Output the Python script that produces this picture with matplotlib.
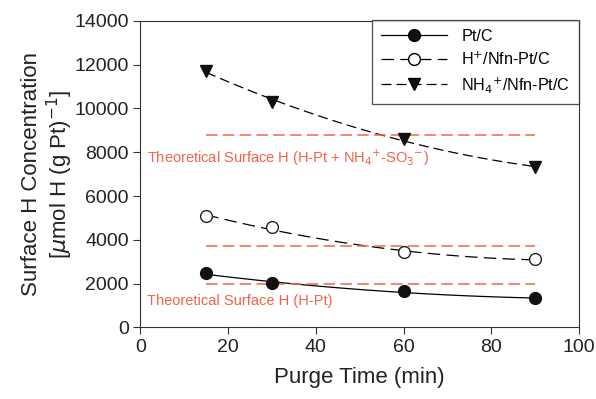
import numpy as np
import matplotlib.pyplot as plt

plt.rcParams['font.family'] = ['Liberation Sans', 'DejaVu Sans']

time = [15, 30, 60, 90]
pt_c = [2470, 2010, 1650, 1330]
h_nfn = [5080, 4570, 3430, 3110]
nh4_nfn = [11710, 10290, 8600, 7320]

theory_full = 8780
theory_mid = 3710
theory_pt = 1970
theory_x = [15, 90]

red = '#f26446'

fig = plt.figure(figsize=(5.96, 3.99), dpi=100)
ax = fig.add_axes([0.2357, 0.1792, 0.7357, 0.7689])

h_dash = (0, (10, 5))
nh4_dash = (0, (8, 4))

# smooth fit curves through the measured points
xs = np.linspace(15, 90, 100)
for vals, ls in [(pt_c, '-'), (h_nfn, h_dash), (nh4_nfn, nh4_dash)]:
    c = np.polyfit(time, vals, 2)
    ax.plot(xs, np.polyval(c, xs), color='black', lw=0.9, linestyle=ls)

for yv in [theory_full, theory_mid, theory_pt]:
    ax.plot(theory_x, [yv, yv], color=red, lw=1.1, linestyle=(0, (7.5, 3.5)))

ax.plot(time, pt_c, 'o', color='#111111', ms=8.5)
ax.plot(time, h_nfn, 'o', mfc='white', mec='#222222', mew=1.0, ms=8.5)
ax.plot(time, nh4_nfn, 'v', color='#111111', ms=8.5)

# legend proxies
ax.plot([], [], '-o', color='black', mfc='#111111', lw=0.9, ms=8.5, label='Pt/C')
ax.plot([], [], 'o', ls=h_dash, color='black', mfc='white', lw=0.9, ms=8.5,
        label='H$^{+}$/Nfn-Pt/C')
ax.plot([], [], 'v', ls=nh4_dash, color='black', mfc='#111111', lw=0.9, ms=8.5,
        label='NH$_4$$^{+}$/Nfn-Pt/C')

ax.text(1.5, 7735, 'Theoretical Surface H (H-Pt + NH$_4$$^{+}$-SO$_3$$^{-}$)',
        color=red, fontsize=10.5, va='center')
ax.text(1.5, 1209, 'Theoretical Surface H (H-Pt)', color=red, fontsize=10.5, va='center')

ax.set_xlim(0, 100)
ax.set_ylim(0, 14000)
ax.set_xticks(range(0, 101, 20))
ax.set_yticks(range(0, 14001, 2000))
ax.tick_params(labelsize=14, direction='out', length=5, color='#333333',
               labelcolor='#222222')
for s in ax.spines.values():
    s.set_color('#333333')

ax.set_xlabel('Purge Time (min)', fontsize=16, labelpad=8, color='#222222')
ax.set_ylabel('Surface H Concentration\n[$\\mu$mol H (g Pt)$^{-1}$]', fontsize=16,
              labelpad=-0.5, linespacing=1.12, color='#222222')

leg = ax.legend(loc='upper right', bbox_to_anchor=(0.9715, 0.95),
                bbox_transform=fig.transFigure, borderaxespad=0, fontsize=11.6,
                frameon=True, fancybox=False, edgecolor='#222222', handlelength=4.1,
                handletextpad=0.9, borderpad=0.55, labelspacing=0.42)
leg.get_frame().set_linewidth(0.9)

fig.savefig('out.png', dpi=100)
